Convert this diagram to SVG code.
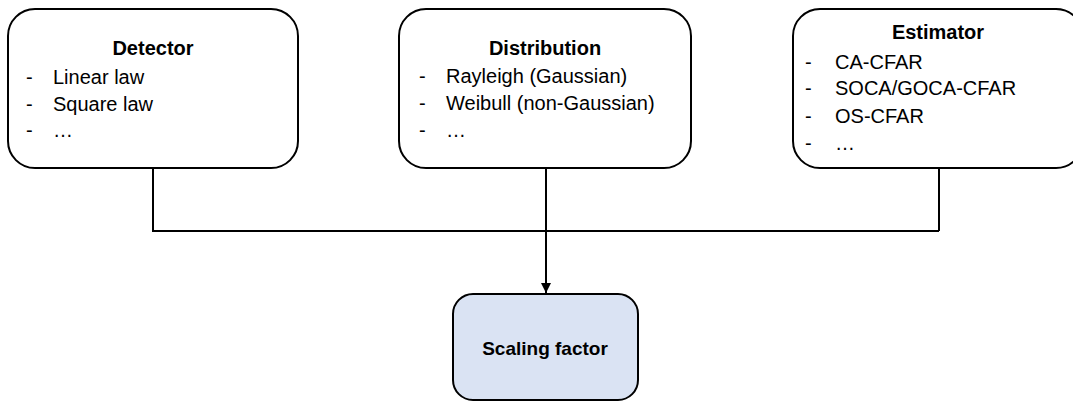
<svg xmlns="http://www.w3.org/2000/svg" width="1073" height="401" viewBox="0 0 1073 401">
<defs>
<style>
.box{fill:#fff;stroke:#000;stroke-width:2}
.res{fill:#dae3f3;stroke:#000;stroke-width:2}
.title{font-family:"Liberation Sans",Arial,sans-serif;font-weight:bold;font-size:20px;fill:#000;text-anchor:middle}
.item{font-family:"Liberation Sans",Arial,sans-serif;font-size:20px;fill:#000}
.conn{fill:none;stroke:#000;stroke-width:2}
</style>
<marker id="arrow" viewBox="0 0 10 10" refX="10" refY="5" markerWidth="5" markerHeight="5" orient="auto" markerUnits="strokeWidth">
<path d="M0,0 L10,5 L0,10 Z" fill="#000"/>
</marker>
</defs>
<rect width="1073" height="401" fill="#fff"/>
<g id="connectors">
<path class="conn" d="M153,168 V231 H939"/>
<path class="conn" d="M939,168 V231"/>
<path class="conn" d="M546,168 V293" marker-end="url(#arrow)"/>
</g>
<g id="detector">
<rect class="box" x="8" y="9" width="290" height="159" rx="27"/>
<text class="title" x="153" y="55">Detector</text>
<text class="item" x="26" y="84">-</text><text class="item" x="53" y="84">Linear law</text>
<text class="item" x="26" y="111">-</text><text class="item" x="53" y="111">Square law</text>
<text class="item" x="26" y="137">-</text><text class="item" x="53" y="137">…</text>
</g>
<g id="distribution">
<rect class="box" x="399" y="9" width="292" height="159" rx="27"/>
<text class="title" x="545" y="55">Distribution</text>
<text class="item" x="419" y="83">-</text><text class="item" x="446" y="83">Rayleigh (Gaussian)</text>
<text class="item" x="419" y="110">-</text><text class="item" x="446" y="110">Weibull (non-Gaussian)</text>
<text class="item" x="419" y="137">-</text><text class="item" x="446" y="137">…</text>
</g>
<g id="estimator">
<rect class="box" x="793" y="9" width="290" height="159" rx="27"/>
<text class="title" x="938" y="39">Estimator</text>
<text class="item" x="805" y="69">-</text><text class="item" x="835" y="69">CA-CFAR</text>
<text class="item" x="805" y="95">-</text><text class="item" x="835" y="95">SOCA/GOCA-CFAR</text>
<text class="item" x="805" y="123">-</text><text class="item" x="835" y="123">OS-CFAR</text>
<text class="item" x="805" y="150">-</text><text class="item" x="835" y="150">…</text>
</g>
<g id="scaling">
<rect class="res" x="453" y="294" width="185" height="106" rx="20"/>
<text class="title" x="545" y="355" style="font-size:19px">Scaling factor</text>
</g>
</svg>
